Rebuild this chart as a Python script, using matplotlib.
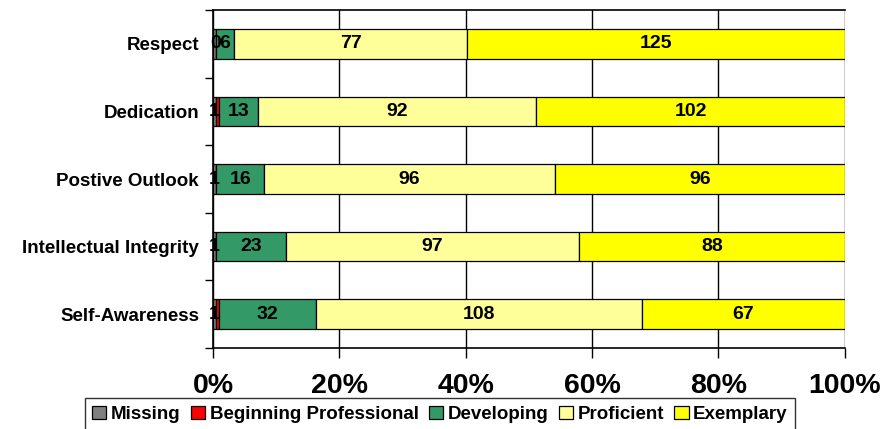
import numpy as np
import matplotlib
matplotlib.use("Agg")
import matplotlib.pyplot as plt

plt.rcParams['font.family'] = ['Liberation Sans', 'DejaVu Sans']

categories = ['Respect', 'Dedication', 'Postive Outlook',
              'Intellectual Integrity', 'Self-Awareness']
series = ['Missing', 'Beginning Professional', 'Developing', 'Proficient', 'Exemplary']
missing = [1, 1, 1, 1, 1]
beginning = [0, 1, 0, 0, 1]
developing = [6, 13, 16, 23, 32]
proficient = [77, 92, 96, 97, 108]
exemplary = [125, 102, 96, 88, 67]
colors = ['#808080', '#FF0000', '#339966', '#FFFF99', '#FFFF00']

# the two thin segments share one label slot; which series shows its label in each row
thin_label = [1, 0, 0, 0, 0]

counts = np.array([missing, beginning, developing, proficient, exemplary], dtype=float)
shares = counts / counts.sum(axis=0)

fig = plt.figure(figsize=(8.8, 4.29), dpi=100)
ax = fig.add_axes([0.242, 1 - 348 / 429, 0.718, 338 / 429])

y = np.arange(len(categories))
left = np.zeros(len(categories))
for i, name in enumerate(series):
    ax.barh(y, shares[i], left=left, height=0.435, color=colors[i],
            edgecolor='black', linewidth=0.9, label=name, zorder=3)
    for j in range(len(categories)):
        if i < 2 and thin_label[j] != i:
            continue
        ax.text(left[j] + shares[i][j] / 2, y[j], f'{int(counts[i][j])}',
                ha='center', va='center', fontsize=14, fontweight='bold', zorder=4)
    left += shares[i]

ax.set_xlim(0, 1)
ax.set_ylim(len(categories) - 0.5, -0.5)
ax.set_xticks(np.linspace(0, 1, 6))
ax.set_xticklabels([f'{int(v)}%' for v in np.linspace(0, 100, 6)],
                   fontsize=20.5, fontweight='bold')
ax.set_yticks(y)
ax.set_yticklabels(categories, fontsize=13.5, fontweight='bold')
ax.set_yticks(np.arange(len(categories) + 1) - 0.5, minor=True)
ax.tick_params(axis='y', which='major', length=0, pad=10)
ax.tick_params(axis='y', which='minor', length=6, width=1, direction='out')
ax.tick_params(axis='x', length=7, width=1, direction='out', pad=11)

ax.grid(axis='x', color='black', linewidth=1, zorder=0)
for side in ax.spines:
    ax.spines[side].set_linewidth(1.2)
ax.spines['right'].set_visible(False)

leg = fig.legend(loc='upper center', bbox_to_anchor=(0.5, 0.094), ncol=5,
                 fontsize=13.5, frameon=True, fancybox=False, edgecolor='black',
                 handlelength=0.75, handleheight=0.75, handletextpad=0.25,
                 columnspacing=0.55, borderpad=0.4)
for t in leg.get_texts():
    t.set_fontweight('bold')
leg.get_frame().set_linewidth(1)

fig.savefig('out.png', dpi=100)
